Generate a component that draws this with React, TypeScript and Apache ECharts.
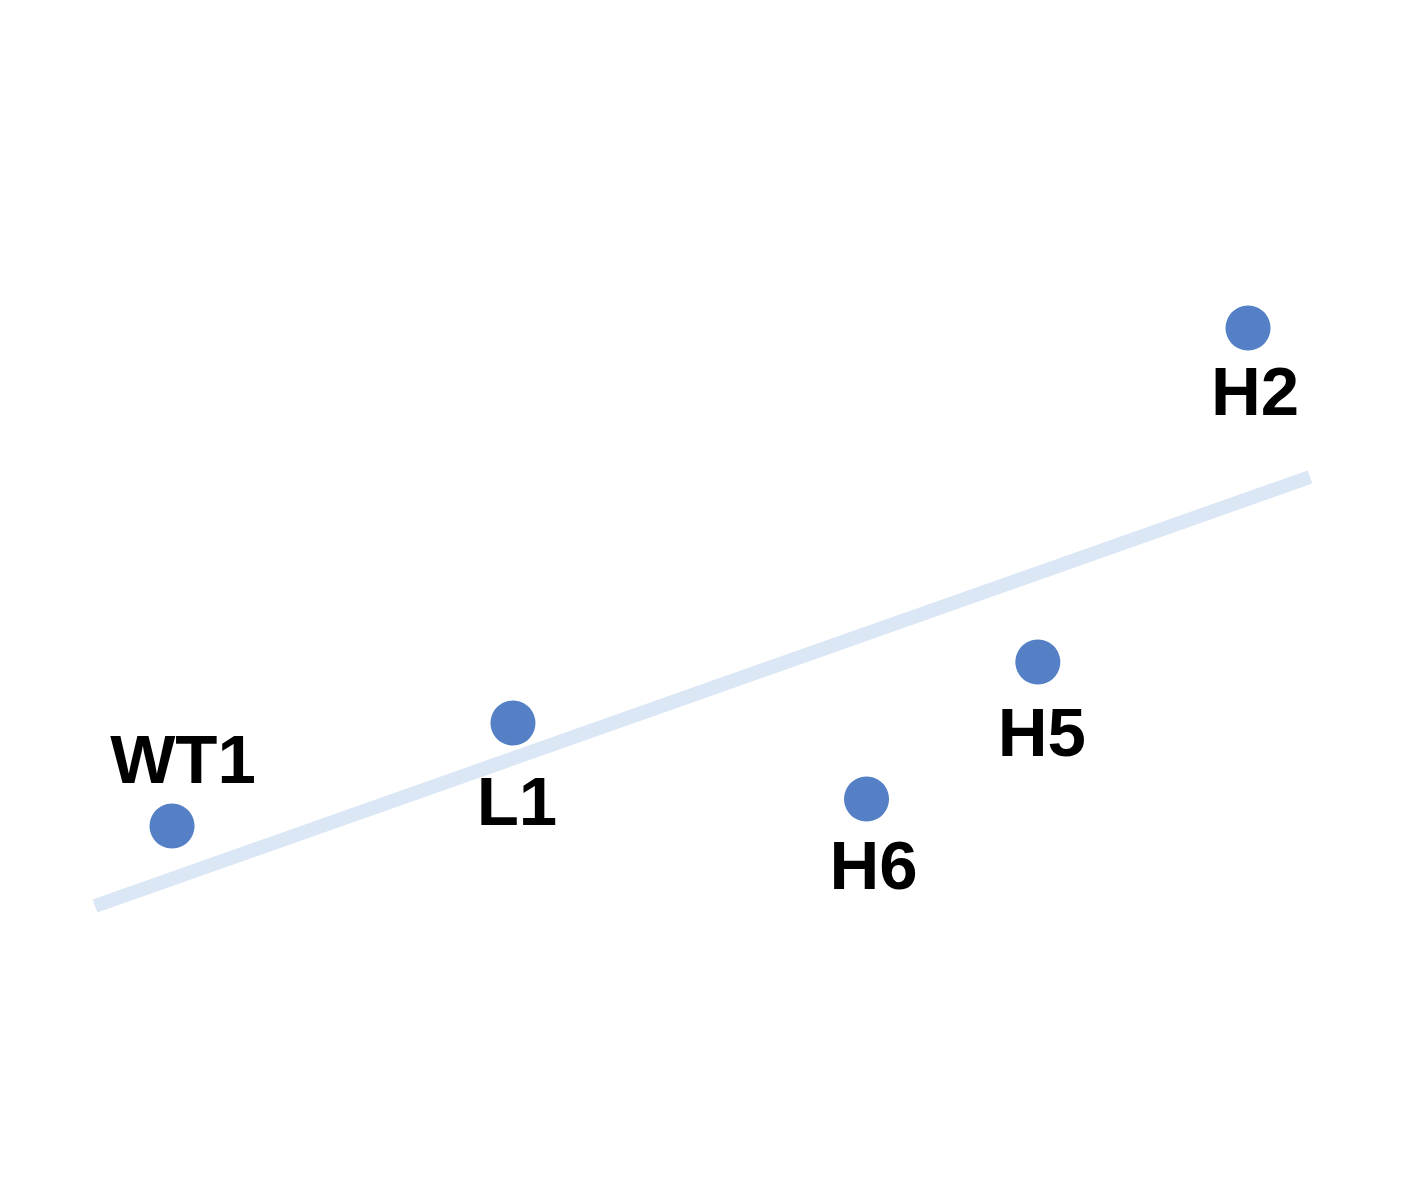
import React, { useEffect, useRef } from "react";
import * as echarts from "echarts";

const names = ["WT1", "L1", "H6", "H5", "H2"];
const xValues = [0.634, 3.44, 6.35, 7.76, 9.49];
const yValues = [2.74, 3.77, 3.01, 4.38, 7.72];
const labelOffsets = [
  [11, -67],
  [4, 78],
  [7, 66],
  [4, 70],
  [7, 63],
];
const trendX = [0, 10];
const trendY = [1.94, 6.23];

export default function App() {
  const ref = useRef<HTMLDivElement>(null);
  useEffect(() => {
    if (!ref.current) return;
    const chart = echarts.init(ref.current, undefined, { renderer: "svg" });
    chart.setOption({
      animation: false,
      backgroundColor: "#ffffff",
      grid: { left: 95, right: 94, top: 100, bottom: 99 },
      xAxis: { type: "value", min: 0, max: 10, show: false },
      yAxis: { type: "value", min: 0, max: 10, show: false },
      series: [
        {
          type: "line",
          data: trendX.map((x, i) => [x, trendY[i]]),
          symbol: "none",
          lineStyle: { color: "#dbe7f5", width: 14, cap: "butt" },
          silent: true,
          z: 1,
        },
        {
          type: "scatter",
          symbolSize: 45,
          itemStyle: { color: "#5580c6", opacity: 1 },
          z: 2,
          data: names.map((n, i) => ({
            name: n,
            value: [xValues[i], yValues[i]],
            label: {
              show: true,
              position: "inside",
              offset: labelOffsets[i],
              formatter: n,
              color: "#000000",
              fontFamily: "Liberation Sans, Arial, sans-serif",
              fontWeight: "bold",
              fontSize: 69,
            },
          })),
        },
      ],
    });
    return () => chart.dispose();
  }, []);
  return (
    <div
      ref={ref}
      style={{ position: "fixed", left: 0, top: 0, width: 1404, height: 1199 }}
    />
  );
}
